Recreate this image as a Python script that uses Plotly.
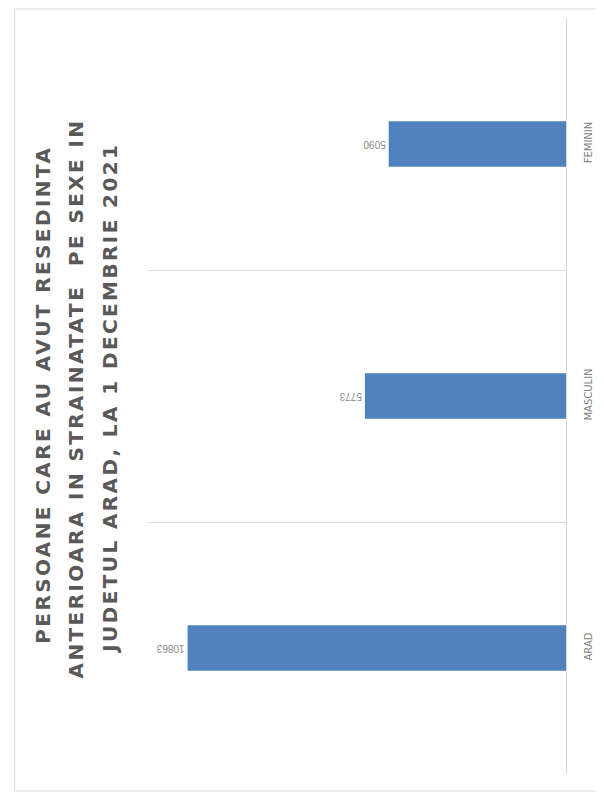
import plotly.graph_objects as go

categories = ["ARAD", "MASCULIN", "FEMININ"]
values = [10863, 5773, 5090]
title_lines = [
    "PERSOANE CARE AU AVUT RESEDINTA",
    "ANTERIOARA IN STRAINATATE  PE SEXE IN",
    "JUDETUL ARAD, LA 1 DECEMBRIE 2021",
]

fig = go.Figure()
fig.add_trace(go.Bar(
    x=values,
    y=categories,
    orientation="h",
    width=0.18,
    marker=dict(color="#4F81BD", line=dict(width=0)),
    text=[str(v) for v in values],
    textposition="outside",
    textangle=180,
    cliponaxis=False,
    textfont=dict(family="Liberation Sans Narrow, Liberation Sans", size=10, color="#8a8a8a"),
    hoverinfo="skip",
))

title_x = [-0.25, -0.170, -0.0896]
title_y = [0.501, 0.4967, 0.497]
annotations = [
    dict(
        text='<span style="letter-spacing:2.4px">' + t + "</span>",
        xref="paper", yref="paper",
        x=x, y=y,
        xanchor="center", yanchor="middle",
        textangle=-90,
        showarrow=False,
        font=dict(family="DejaVu Sans", size=20, color="#595959", weight="bold"),
    )
    for t, x, y in zip(title_lines, title_x, title_y)
]

fig.update_layout(
    width=596,
    height=793,
    paper_bgcolor="white",
    plot_bgcolor="white",
    showlegend=False,
    margin=dict(l=140, r=32, t=10, b=27),
    xaxis=dict(
        range=[12000, 0],
        showgrid=False,
        zeroline=False,
        showticklabels=False,
        showline=False,
        fixedrange=True,
    ),
    yaxis=dict(
        type="category",
        categoryorder="array",
        categoryarray=categories,
        side="right",
        tickson="boundaries",
        showgrid=True,
        gridcolor="#d9d9d9",
        gridwidth=1,
        showline=True,
        linecolor="#d9d9d9",
        linewidth=1,
        ticks="",
        tickangle=-90,
        ticklabelstandoff=13,
        tickfont=dict(family="DejaVu Sans", size=10, color="#7f7f7f"),
        zeroline=False,
    ),
    annotations=annotations,
    shapes=[
        dict(type="rect", xref="paper", yref="paper",
             x0=-0.319, x1=1.2, y0=-0.0225, y1=1.012,
             line=dict(color="#d9d9d9", width=1), fillcolor="rgba(0,0,0,0)", layer="below"),
    ],
)

fig.write_html("out.html")
